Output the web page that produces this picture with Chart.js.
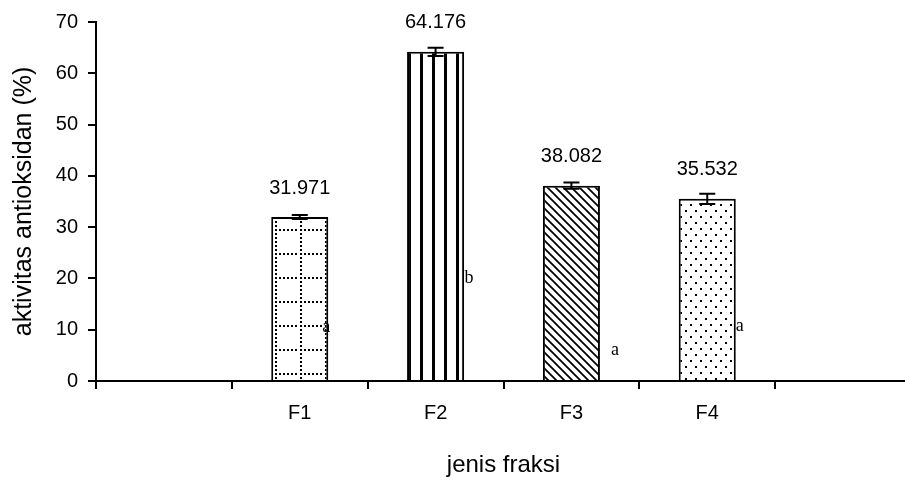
<!DOCTYPE html>
<html>
<head>
<meta charset="utf-8">
<script src="https://cdn.jsdelivr.net/npm/chart.js@4/dist/chart.umd.min.js"></script>
<style>
  html, body { margin: 0; padding: 0; background: #fff; overflow: hidden; }
</style>
</head>
<body>
<canvas id="chart" width="911" height="480"></canvas>
<script>
// data: aktivitas antioksidan per fraksi (kategori kosong di kiri dan kanan)
const kategori = ['', 'F1', 'F2', 'F3', 'F4', ''];
const aktivitas = [null, 31.971, 64.176, 38.082, 35.532, null];
const galat = [0, 0.4, 0.8, 0.6, 1.0, 0];
const notasi = ['', 'a', 'b', 'a', 'a', ''];
const tinggiNotasi = [null, 10.5, 20, 6, 10.7, null];
const yTicks = [0, 10, 20, 30, 40, 50, 60, 70];

// geser horizontal huruf notasi dari tepi kanan batang (px)
const geserNotasi = [0, -2, 5, 15, 4, 0];

const huruf = '"Liberation Sans", Arial, sans-serif';
const ctx = document.getElementById('chart').getContext('2d');

function pola(w, h, gambar, dx, dy) {
    const c = document.createElement('canvas');
    c.width = w; c.height = h;
    const g = c.getContext('2d');
    g.fillStyle = '#fff';
    g.fillRect(0, 0, w, h);
    g.fillStyle = '#000';
    g.strokeStyle = '#000';
    gambar(g, w, h);
    const p = ctx.createPattern(c, 'repeat');
    if (dx || dy) p.setTransform(new DOMMatrix().translate(dx || 0, dy || 0));
    return p;
}

// F1: kotak-kotak titik
const polaF1 = pola(25, 24, (g) => {
    for (let x = 0; x < 24; x += 4) g.fillRect(x, 0, 2, 2);
    for (let y = 0; y < 24; y += 4) g.fillRect(0, y, 2, 2);
}, 0, 13);
// F2: garis tegak
const polaF2 = pola(12, 4, (g) => { g.fillRect(0, 0, 3, 4); });
// F3: garis miring
const polaF3 = pola(8, 8, (g) => {
    g.lineWidth = 1.8;
    g.beginPath();
    for (const o of [-8, 0, 8]) { g.moveTo(o - 1, -1); g.lineTo(o + 9, 9); }
    g.stroke();
});
// F4: titik-titik
const polaF4 = pola(10, 12, (g) => {
    g.fillRect(0, 0, 2, 2);
    g.fillRect(5, 6, 2, 2);
});

const isiBatang = ['#fff', polaF1, polaF2, polaF3, polaF4, '#fff'];

const anotasi = {
    id: 'anotasi',
    afterDatasetsDraw(chart) {
        const c = chart.ctx;
        const sy = chart.scales.y;
        const meta = chart.getDatasetMeta(0);
        c.save();
        meta.data.forEach((bar, i) => {
            if (aktivitas[i] == null) return;
            // error bar
            const yAtas = sy.getPixelForValue(aktivitas[i] + galat[i]);
            const yBawah = sy.getPixelForValue(aktivitas[i] - galat[i]);
            c.strokeStyle = '#000';
            c.lineWidth = 2;
            c.beginPath();
            c.moveTo(bar.x, yAtas); c.lineTo(bar.x, yBawah);
            c.moveTo(bar.x - 8, yAtas); c.lineTo(bar.x + 8, yAtas);
            c.moveTo(bar.x - 8, yBawah); c.lineTo(bar.x + 8, yBawah);
            c.stroke();
            // nilai di atas batang
            c.fillStyle = '#000';
            c.textAlign = 'center';
            c.textBaseline = 'middle';
            c.font = '20px ' + huruf;
            c.fillText(aktivitas[i].toFixed(3), bar.x, bar.y - 29);
            // huruf notasi
            c.font = '18px "Liberation Serif", "Times New Roman", serif';
            c.fillText(notasi[i], bar.x + bar.width / 2 + geserNotasi[i], sy.getPixelForValue(tinggiNotasi[i]));
        });
        c.restore();
    }
};

new Chart(ctx, {
    type: 'bar',
    data: {
        labels: kategori,
        datasets: [{
            data: aktivitas,
            backgroundColor: isiBatang,
            borderColor: '#000',
            borderWidth: 2,
            barPercentage: 0.42,
            categoryPercentage: 1
        }]
    },
    options: {
        responsive: false,
        animation: false,
        devicePixelRatio: 1,
        layout: { padding: { top: 22, right: 0, left: 0, bottom: 0 } },
        plugins: {
            legend: { display: false },
            tooltip: { enabled: false }
        },
        scales: {
            x: {
                offset: true,
                grid: {
                    offset: true,
                    drawOnChartArea: false,
                    tickLength: 8,
                    color: '#000',
                    lineWidth: 2
                },
                border: { color: '#000', width: 2 },
                ticks: { color: '#000', font: { family: huruf, size: 20 }, padding: 12, maxRotation: 0 },
                title: {
                    display: true,
                    text: 'jenis fraksi',
                    color: '#000',
                    font: { family: huruf, size: 24 },
                    padding: { top: 0, bottom: 0 }
                },
                afterFit: (s) => { s.height = 99; }
            },
            y: {
                min: 0,
                max: 70,
                afterBuildTicks: (s) => { s.ticks = yTicks.map(v => ({ value: v })); },
                grid: {
                    drawOnChartArea: false,
                    tickLength: 8,
                    color: '#000',
                    lineWidth: 2
                },
                border: { color: '#000', width: 2 },
                ticks: { color: '#000', font: { family: huruf, size: 20 }, padding: 10 },
                title: {
                    display: true,
                    text: 'aktivitas antioksidan (%)',
                    color: '#000',
                    font: { family: huruf, size: 25 },
                    padding: { top: 9, bottom: 0 }
                },
                afterFit: (s) => { s.width = 96; }
            }
        }
    },
    plugins: [anotasi]
});
</script>
</body>
</html>
